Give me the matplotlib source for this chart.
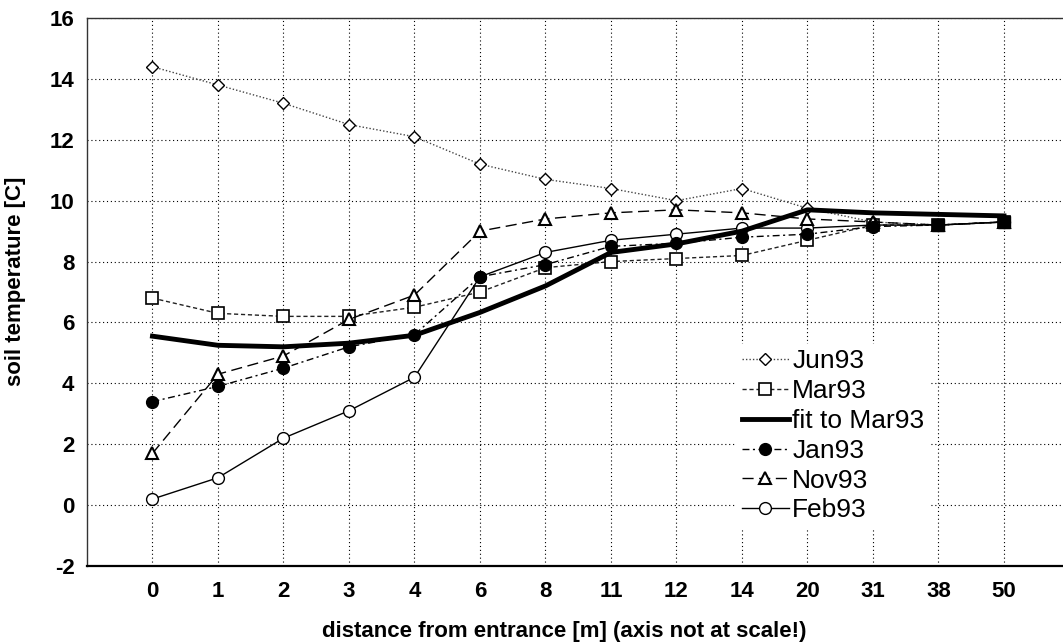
import numpy as np
import matplotlib
matplotlib.use("Agg")
import matplotlib.pyplot as plt

plt.rcParams['font.family'] = ['Liberation Sans', 'DejaVu Sans']
plt.rcParams['axes.unicode_minus'] = False

# distance from entrance [m] (plotted at equal spacing)
distance = ["0", "1", "2", "3", "4", "6", "8", "11", "12", "14", "20", "31", "38", "50"]

jun93 = [14.4, 13.8, 13.2, 12.5, 12.1, 11.2, 10.7, 10.4, 10.0, 10.4, 9.75, 9.3, 9.2, 9.3]
mar93 = [6.8, 6.3, 6.2, 6.2, 6.5, 7.0, 7.8, 8.0, 8.1, 8.2, 8.7, 9.2, 9.2, 9.3]
fit_mar93 = [5.55, 5.25, 5.2, 5.32, 5.58, 6.33, 7.2, 8.3, 8.58, 9.0, 9.7, 9.6, 9.55, 9.5]
jan93 = [3.4, 3.9, 4.5, 5.2, 5.6, 7.5, 7.9, 8.5, 8.6, 8.8, 8.9, 9.15, 9.2, 9.3]
nov93 = [1.7, 4.3, 4.9, 6.1, 6.9, 9.0, 9.4, 9.6, 9.7, 9.6, 9.4, 9.3, 9.2, 9.3]
feb93 = [0.2, 0.9, 2.2, 3.1, 4.2, 7.5, 8.3, 8.7, 8.9, 9.1, 9.1, 9.2, 9.2, 9.3]

x = np.arange(len(distance))

fig = plt.figure(figsize=(10.63, 6.43), dpi=100)
ax = fig.add_axes([0.0818, 0.1197, 0.9243, 0.8523])

h_jun, = ax.plot(x, jun93, color='#444444', lw=1.0, ls=(0, (1, 1.5)),
                 marker='D', ms=6.5, mfc='white', mec='black', mew=1.0, label='Jun93', zorder=3)
h_mar, = ax.plot(x, mar93, color='#222222', lw=1.0, ls=(0, (3, 2)),
                 marker='s', ms=8, mfc='white', mec='black', mew=1.2, label='Mar93', zorder=3)
# overlapping markers at the far end show up as solid squares
ax.plot(x[12:], mar93[12:], ls='none', marker='s', ms=8, mfc='black', mec='black', zorder=6)
h_feb, = ax.plot(x, feb93, color='black', lw=1.0, ls='-',
                 marker='o', ms=8.5, mfc='white', mec='black', mew=1.0, label='Feb93', zorder=4)
h_nov, = ax.plot(x, nov93, color='black', lw=1.0, ls=(0, (8, 4)),
                 marker='^', ms=8, mfc='white', mec='black', mew=1.5, label='Nov93', zorder=4)
h_fit, = ax.plot(x, fit_mar93, color='black', lw=3.5, ls='-', label='fit to Mar93', zorder=5)
h_jan, = ax.plot(x, jan93, color='black', lw=1.0, ls=(0, (5, 2.5, 1.5, 2.5)),
                 marker='o', ms=8.5, mfc='black', mec='black', label='Jan93', zorder=5)

ax.set_xlim(-1, 14)
ax.set_ylim(-2, 16)
ax.set_xticks(x)
ax.set_xticklabels(distance)
ax.set_yticks(np.arange(-2, 17, 2))
ax.tick_params(axis='x', length=0, pad=11.0, labelsize=16)
ax.tick_params(axis='y', length=0, pad=9.0, labelsize=16)
for lbl in ax.get_xticklabels() + ax.get_yticklabels():
    lbl.set_fontweight('bold')

ax.grid(True, color='black', lw=0.8, ls=(0, (1, 2.5)))
ax.set_axisbelow(True)
for side in ['left', 'top', 'right']:
    ax.spines[side].set_linewidth(1.0)
    ax.spines[side].set_color('#333333')
ax.spines['bottom'].set_linewidth(1.6)

ax.set_xlabel("distance from entrance [m] (axis not at scale!)", fontsize=16, fontweight='bold')
ax.xaxis.set_label_coords(0.486, -0.1)
ax.set_ylabel("soil temperature [C]", fontsize=16, fontweight='bold')
ax.yaxis.set_label_coords(-0.062, 0.52)

leg = ax.legend([h_jun, h_mar, h_fit, h_jan, h_nov, h_feb],
                ['Jun93', 'Mar93', 'fit to Mar93', 'Jan93', 'Nov93', 'Feb93'],
                loc='upper left', bbox_to_anchor=(0.661, 0.405), fontsize=19,
                frameon=True, fancybox=False, framealpha=1.0, edgecolor='none',
                handlelength=1.8, handletextpad=0.12, labelspacing=0.22,
                borderpad=0.2, borderaxespad=0.0)

fig.savefig("out.png", dpi=100)
